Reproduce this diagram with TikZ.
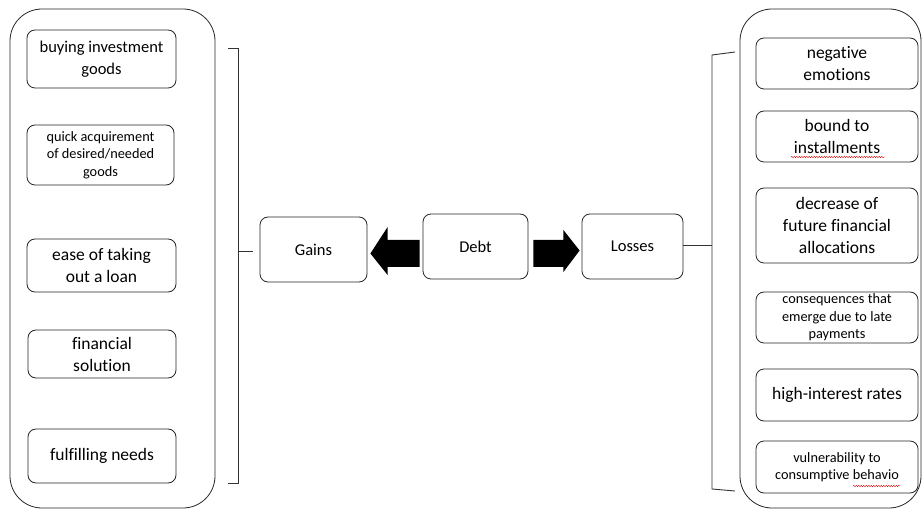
\documentclass[tikz,border=0pt]{standalone}
\usepackage{fontspec}
\setmainfont{Carlito}[Ligatures={NoCommon}]
\usetikzlibrary{calc,decorations.pathmorphing}
\tikzset{
  container/.style={draw=black!85, line width=0.8pt, rounded corners=32pt, inner sep=0pt},
  itembox/.style={draw=black!85, line width=0.8pt, rounded corners=8pt, inner sep=0pt, align=center,
    font=\fontsize{17.5}{22}\selectfont},
  smallbox/.style={itembox, font=\fontsize{14.3}{17.5}\selectfont},
  midbox/.style={itembox, font=\fontsize{16.5}{20}\selectfont},
  bracket/.style={draw=black!80, line width=0.9pt},
  blockarrow/.style={fill=black, draw=none},
  spell/.style={draw=red!85!black, line width=0.4pt, decorate, decoration={snake, amplitude=0.7pt, segment length=2.5pt}}
}
\begin{document}
\begin{tikzpicture}[x=1pt,y=-1pt]
\useasboundingbox (0,0) rectangle (923,510);
\fill[white] (0,0) rectangle (923,510);
% containers
\node[container, minimum width=205pt, minimum height=499pt] (lc) at (112.5,258.5) {};
\node[container, minimum width=181pt, minimum height=499pt] (rc) at (830.5,258.5) {};
% left items
\node[itembox, font=\fontsize{16.5}{22}\selectfont, minimum width=149pt, minimum height=58pt] (g1) at (101.5,59) {buying investment\\goods};
\node[smallbox, minimum width=147pt, minimum height=60pt] (g2) at (100.5,155) {quick acquirement\\of desired/needed\\goods};
\node[itembox, minimum width=149pt, minimum height=53pt] (g3) at (101.5,265.5) {ease of taking\\out a loan};
\node[itembox, minimum width=148pt, minimum height=48pt] (g4) at (102,354) {financial\\solution};
\node[itembox, minimum width=148pt, minimum height=54pt] (g5) at (102,456) {fulfilling needs};
% right items
\node[itembox, minimum width=162pt, minimum height=51pt] (l1) at (837,63.5) {negative\\emotions};
\node[itembox, minimum width=162pt, minimum height=51pt] (l2) at (837,136.5) {bound to\\installments};
\node[itembox, minimum width=162pt, minimum height=75pt] (l3) at (837,225.5) {decrease of\\future financial\\allocations};
\node[smallbox, minimum width=162pt, minimum height=51pt] (l4) at (837,317.5) {consequences that\\emerge due to late\\payments};
\node[itembox, minimum width=162pt, minimum height=52pt] (l5) at (837,395) {high-interest rates};
\node[smallbox, minimum width=162pt, minimum height=52pt] (l6) at (837,467) {vulnerability to\\consumptive behavio};
% spelling marks
\draw[spell] (791,157) -- (885,157);
\draw[spell] (853,486) -- (900,486);
% middle nodes
\node[midbox, minimum width=107pt, minimum height=65pt] (gains) at (313.5,249.5) {Gains};
\node[midbox, minimum width=105pt, minimum height=65pt] (debt) at (475.5,246.5) {Debt};
\node[midbox, minimum width=101pt, minimum height=65pt] (losses) at (632.5,246.5) {Losses};
% block arrows
\fill[blockarrow] ($(debt.west)+(-3,-6.5)$) -- ($(debt.west)+(-35,-6.5)$) -- ($(debt.west)+(-35,-19.5)$)
  -- ($(gains.east)+(3,4)$) -- ($(debt.west)+(-35,28.5)$) -- ($(debt.west)+(-35,20.5)$) -- ($(debt.west)+(-3,20.5)$) -- cycle;
\fill[blockarrow] ($(debt.east)+(5,-6.5)$) -- ($(debt.east)+(35,-6.5)$) -- ($(debt.east)+(35,-16.5)$)
  -- ($(losses.west)+(-2,4)$) -- ($(debt.east)+(35,25.5)$) -- ($(debt.east)+(35,20.5)$) -- ($(debt.east)+(5,20.5)$) -- cycle;
% left bracket
\coordinate (lbt) at (228,48);
\coordinate (lbb) at (228,483);
\coordinate (lbm) at (238,251);
\coordinate (lbtip) at (253,251);
\draw[bracket] (lbt) -- (238,48) -- (238,483) -- (lbb);
\draw[bracket] (lbm) -- (lbtip);
% right bracket
\coordinate (rbt) at (735,52);
\coordinate (rbb) at (735,491);
\coordinate (rbm) at (712,245);
\draw[bracket] (rbt) -- (712,55) -- (712,489) -- (rbb);
\draw[bracket] (losses.east |- rbm) -- (rbm);
\end{tikzpicture}
\end{document}
